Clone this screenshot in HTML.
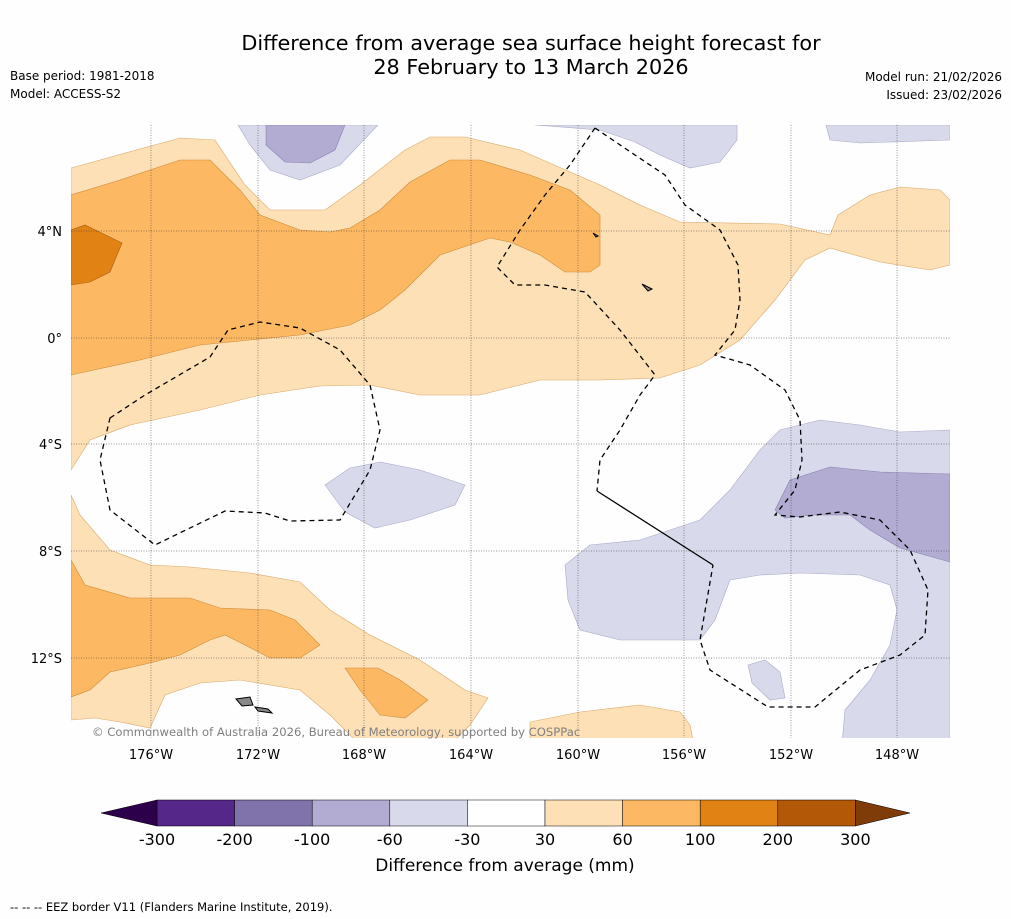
<!DOCTYPE html>
<html><head><meta charset="utf-8"><style>
body{margin:0;background:#fefefe;font-family:"Liberation Sans","DejaVu Sans",sans-serif;}
svg{display:block}
</style></head><body>
<svg width="1011" height="919" viewBox="0 0 1011 919" font-family="DejaVu Sans, Liberation Sans, sans-serif">
<rect width="1011" height="919" fill="#fefefe"/>
<text x="531" y="50" font-size="20.8" text-anchor="middle">Difference from average sea surface height forecast for</text>
<text x="531" y="74" font-size="20.8" text-anchor="middle">28 February to 13 March 2026</text>
<text x="10" y="80" font-size="12">Base period: 1981-2018</text>
<text x="10" y="98" font-size="12">Model: ACCESS-S2</text>
<text x="1002" y="81" font-size="12" text-anchor="end">Model run: 21/02/2026</text>
<text x="1002" y="99" font-size="12" text-anchor="end">Issued: 23/02/2026</text>
<g>
<clipPath id="mc"><rect x="71" y="125" width="879" height="613"/></clipPath>
<g clip-path="url(#mc)" stroke-width="0.6">
<path fill="#fee0b6" stroke="#d9a868" d="M71,168 L180,138 215,140 245,185 270,210 325,210 360,185 405,150 430,137 465,137 520,150 600,185 640,205 680,222 780,224 830,235 838,215 870,195 900,187 940,190 950,200 950,265 930,270 880,262 830,248 805,260 775,300 740,340 700,365 660,378 600,380 540,380 480,395 420,395 370,385 320,386 260,395 200,410 130,425 90,440 71,470Z"/>
<path fill="#fdb863" stroke="#c98a3a" d="M71,195 L120,180 180,160 210,160 240,190 260,215 300,230 330,232 350,228 380,210 410,182 450,160 480,160 530,175 570,190 600,215 600,265 590,272 565,272 540,255 510,242 490,238 440,255 405,290 380,310 350,325 300,335 250,340 200,345 140,360 71,375Z"/>
<path fill="#e08214" stroke="#a85e10" d="M71,230 L85,225 122,243 110,272 90,282 71,285Z"/>
<path fill="#d8daeb" stroke="#a9a9c8" d="M238,125 L378,125 340,165 300,180 270,170 250,145Z"/>
<path fill="#b2abd2" stroke="#8880b0" d="M266,125 L345,125 335,150 310,163 285,162 266,145Z"/>
<path fill="#d8daeb" stroke="#a9a9c8" d="M535,125 L737,125 737,140 720,162 690,168 660,155 635,142 600,130Z"/>
<path fill="#d8daeb" stroke="#a9a9c8" d="M826,125 L950,125 950,140 860,143 830,140Z"/>
<path fill="#fee0b6" stroke="#d9a868" d="M71,495 L80,515 110,550 150,565 190,567 250,573 300,582 330,610 370,635 420,660 465,690 488,698 470,725 450,745 360,745 330,715 300,690 240,680 200,683 165,695 150,728 120,722 95,718 71,720Z"/>
<path fill="#fdb863" stroke="#c98a3a" d="M71,560 L85,585 130,598 190,598 220,608 270,610 295,620 320,645 300,658 270,658 245,645 225,635 210,640 180,655 150,663 110,672 90,690 71,697Z"/>
<path fill="#fdb863" stroke="#c98a3a" d="M345,668 L378,668 400,680 428,700 405,718 380,715 360,690Z"/>
<path fill="#fee0b6" stroke="#d9a868" d="M530,722 L580,712 640,705 680,712 690,725 694,745 530,745Z"/>
<path fill="#d8daeb" stroke="#a9a9c8" d="M325,485 L350,468 380,462 420,470 465,485 455,505 410,520 375,528 345,512Z"/>
<path fill="#d8daeb" stroke="#a9a9c8" d="M565,565 L590,545 640,540 700,520 730,490 760,450 780,430 820,420 860,425 900,432 950,430 950,745 842,745 845,710 870,680 890,645 897,610 890,585 860,575 800,573 760,575 730,580 715,620 700,640 620,640 580,630 568,600Z"/>
<path fill="#d8daeb" stroke="#a9a9c8" d="M748,665 L765,660 780,672 785,698 770,700 752,683Z"/>
<path fill="#b2abd2" stroke="#8880b0" d="M775,510 L790,480 830,467 880,472 950,474 950,562 900,548 870,530 850,515 810,515 785,518Z"/>
</g>
<g stroke="#333" stroke-width="0.5" stroke-dasharray="1,1.5">
<line x1="151" y1="125" x2="151" y2="738"/><line x1="258" y1="125" x2="258" y2="738"/><line x1="364" y1="125" x2="364" y2="738"/><line x1="471" y1="125" x2="471" y2="738"/><line x1="578" y1="125" x2="578" y2="738"/><line x1="684" y1="125" x2="684" y2="738"/><line x1="791" y1="125" x2="791" y2="738"/><line x1="897" y1="125" x2="897" y2="738"/>
<line x1="71" y1="231" x2="950" y2="231"/><line x1="71" y1="338" x2="950" y2="338"/><line x1="71" y1="444" x2="950" y2="444"/><line x1="71" y1="551" x2="950" y2="551"/><line x1="71" y1="658" x2="950" y2="658"/>
</g>
<g fill="none" stroke="#000" stroke-width="1.3" stroke-dasharray="5,4">
<path d="M110,418 L145,395 210,357 228,330 260,322 300,328 340,350 370,385 380,430 370,470 340,520 290,521 265,513 225,511 155,545 110,510 100,460Z"/>
<path d="M595,128 L635,155 665,175 685,205 720,230 738,265 740,300 735,330 715,355 750,365 785,390 800,420 802,460 795,490 775,515 800,517 840,512 880,520 910,550 928,590 925,635 900,655 860,670 815,707 768,707 710,670 700,640 713,565"/>
<path d="M595,128 L570,165 545,195 520,230 497,267 515,285 545,285 585,292 620,330 655,375 640,395 620,430 600,460 597,491"/>
</g>
<path d="M597,491 L713,565" stroke="#000" stroke-width="1.3" fill="none"/>
<g fill="#888" stroke="#000" stroke-width="1">
<path d="M236,699 L250,697 253,705 242,706Z"/><path d="M255,707 L268,709 272,713 258,711Z"/>
<path d="M642,284 L652,289 648,291Z"/><path d="M593,233 L598,236 596,237Z"/>
</g>
<text x="92" y="736" font-size="11.6" fill="#808080">© Commonwealth of Australia 2026, Bureau of Meteorology, supported by COSPPac</text>
<g font-size="13" text-anchor="end">
<text x="62" y="236">4°N</text><text x="62" y="343">0°</text><text x="62" y="449">4°S</text><text x="62" y="556">8°S</text><text x="62" y="663">12°S</text>
</g>
<g font-size="13" text-anchor="middle">
<text x="151" y="759">176°W</text><text x="258" y="759">172°W</text><text x="364" y="759">168°W</text><text x="471" y="759">164°W</text><text x="578" y="759">160°W</text><text x="684" y="759">156°W</text><text x="791" y="759">152°W</text><text x="897" y="759">148°W</text>
</g>
</g>
<g id="cbar"></g>
<text x="505" y="871" font-size="17" text-anchor="middle">Difference from average (mm)</text>
<text x="10" y="911" font-size="11.5">--  --  -- EEZ border V11 (Flanders Marine Institute, 2019).</text>
</svg>
<script>
const bounds=[-300,-200,-100,-60,-30,30,60,100,200,300];
const colors=["#542788","#8073ac","#b2abd2","#d8daeb","#ffffff","#fee0b6","#fdb863","#e08214","#b35806"];
const extendColors=["#2d004b","#7f3b08"];
const ns="http://www.w3.org/2000/svg";
const g=document.getElementById('cbar');
const x0=157,w=77.6,y0=800,h=26;
function bx(i){return x0+i*w;}
colors.forEach((c,i)=>{const r=document.createElementNS(ns,'rect');
r.setAttribute('x',bx(i));r.setAttribute('y',y0);r.setAttribute('width',w);r.setAttribute('height',h);
r.setAttribute('fill',c);r.setAttribute('stroke','#000');r.setAttribute('stroke-width','0.5');


g.appendChild(r);});
const xe=bx(colors.length);
[[`${x0},${y0} ${x0},${y0+h} 101,${y0+h/2}`,extendColors[0]],[`${xe},${y0} ${xe},${y0+h} 910,${y0+h/2}`,extendColors[1]]].forEach(p=>{
const t=document.createElementNS(ns,'polygon');t.setAttribute('points',p[0]);t.setAttribute('fill',p[1]);t.setAttribute('stroke','#000');t.setAttribute('stroke-width','0.5');


g.appendChild(t);});
bounds.forEach((b,i)=>{const t=document.createElementNS(ns,'text');
t.setAttribute('x',bx(i));t.setAttribute('y',845);t.setAttribute('font-size','16');t.setAttribute('text-anchor','middle');
t.textContent=b;


g.appendChild(t);});
</script>
</body></html>
